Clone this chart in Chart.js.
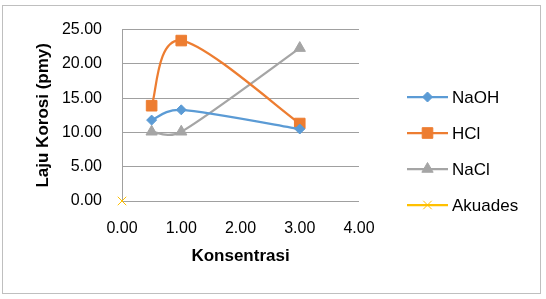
<!DOCTYPE html>
<html>
<head>
<meta charset="utf-8">
<script src="https://cdn.jsdelivr.net/npm/chart.js@4/dist/chart.umd.min.js"></script>
<style>
html,body{margin:0;padding:0;background:#fff;}
#wrap{position:absolute;left:0;top:0;width:546px;height:299px;}
</style>
</head>
<body>
<div id="wrap"><canvas id="c" width="546" height="299"></canvas></div>
<script>
const concentrations = [0.5, 1, 3];
const naoh = [11.8, 13.3, 10.5];
const hcl = [13.9, 23.4, 11.3];
const nacl = [10.1, 10.1, 22.3];
const akuadesX = [0];
const akuades = [0];
const seriesNames = ["NaOH", "HCl", "NaCl", "Akuades"];
const xTitle = "Konsentrasi";
const yTitle = "Laju Korosi (pmy)";

const FONT = "'Liberation Sans', Arial, sans-serif";
const colors = ["#5B9BD5", "#ED7D31", "#A5A5A5", "#FFC000"];
const pts = (xs, ys) => xs.map((x, i) => ({x: x, y: ys[i]}));

// Excel-like smoothing: control points at 1/6 of neighbour chord, limited by adjacent segment length
const excelSmooth = {
  id: 'excelSmooth',
  beforeDatasetDraw(chart, args) {
    const line = args.meta.dataset;
    if (!line || !line.points || line.points.length < 2) return;
    line.updateControlPoints(chart.chartArea, 'x');
    const p = line.points;
    const n = p.length;
    const dist = (a, b) => Math.hypot(b.x - a.x, b.y - a.y);
    for (let i = 0; i < n; i++) {
      const prev = p[Math.max(0, i - 1)];
      const next = p[Math.min(n - 1, i + 1)];
      const vx = (next.x - prev.x) / 6;
      const vy = (next.y - prev.y) / 6;
      const vl = Math.hypot(vx, vy) || 1;
      const back = Math.min(1, (0.5 * dist(prev, p[i])) / vl) || (i === 0 ? 1 : 0);
      const fwd = Math.min(1, (0.5 * dist(p[i], next)) / vl) || (i === n - 1 ? 1 : 0);
      const bk = i === 0 ? 1 : back;
      const fw = i === n - 1 ? 1 : fwd;
      p[i].cp1x = p[i].x - vx * bk; p[i].cp1y = p[i].y - vy * bk;
      p[i].cp2x = p[i].x + vx * fw; p[i].cp2y = p[i].y + vy * fw;
    }
  }
};

const frame = {
  id: 'frame',
  beforeDraw(chart) {
    const ctx = chart.ctx;
    ctx.save();
    ctx.fillStyle = '#fff';
    ctx.fillRect(0, 0, chart.width, chart.height);
    ctx.strokeStyle = '#BFBFBF';
    ctx.lineWidth = 1;
    ctx.strokeRect(2.5, 5.5, 538, 288);
    ctx.restore();
  },
  afterDraw(chart) {
    const ctx = chart.ctx;
    const ys = [97, 133, 169, 205];
    chart.data.datasets.forEach((ds, i) => {
      const y = ys[i];
      ctx.save();
      ctx.strokeStyle = ds.borderColor;
      ctx.lineWidth = 2.25;
      ctx.beginPath(); ctx.moveTo(407, y); ctx.lineTo(448, y); ctx.stroke();
      ctx.fillStyle = ds.borderColor; ctx.strokeStyle = ds.borderColor; ctx.lineWidth = 1;
      Chart.helpers.drawPoint(ctx, {pointStyle: ds.pointStyle, radius: ds.pointRadius, rotation: 0, borderWidth: 1}, 427.5, y);
      ctx.fillStyle = '#000';
      ctx.font = "17px " + FONT;
      ctx.textBaseline = 'middle';
      ctx.textAlign = 'left';
      ctx.fillText(ds.label, 452, y + 1);
      ctx.restore();
    });
  }
};

const mk = (label, xs, ys, i, style, r) => ({
  label: label,
  data: pts(xs, ys),
  borderColor: colors[i],
  backgroundColor: colors[i],
  pointBackgroundColor: colors[i],
  pointBorderColor: colors[i],
  pointBorderWidth: 1,
  showLine: true,
  borderWidth: 2.25,
  tension: 0.4,
  clip: false,
  pointStyle: style,
  pointRadius: r,
  pointHoverRadius: r
});

new Chart(document.getElementById('c'), {
  type: 'scatter',
  data: {
    datasets: [
      mk(seriesNames[0], concentrations, naoh, 0, 'rectRot', 5),
      mk(seriesNames[1], concentrations, hcl, 1, 'rect', 7.5),
      mk(seriesNames[2], concentrations, nacl, 2, 'triangle', 6.5),
      mk(seriesNames[3], akuadesX, akuades, 3, 'crossRot', 6)
    ]
  },
  options: {
    responsive: false,
    animation: false,
    devicePixelRatio: 1,
    layout: {padding: {left: 0, right: 187, top: 29, bottom: 0}},
    plugins: {legend: {display: false}, tooltip: {enabled: false}},
    scales: {
      x: {
        type: 'linear', min: 0, max: 4,
        afterFit(s) { s.height = 98; },
        ticks: {stepSize: 1, callback: v => v.toFixed(2), color: '#000', font: {family: FONT, size: 16}, padding: 18, maxRotation: 0},
        grid: {display: false, drawTicks: false},
        border: {display: false},
        title: {display: true, text: xTitle, color: '#000', font: {family: FONT, size: 17, weight: 'bold'}, padding: {top: 32, bottom: 32}}
      },
      y: {
        type: 'linear', min: 0, max: 25,
        afterFit(s) { s.width = 122; },
        ticks: {stepSize: 5, callback: v => v.toFixed(2), color: '#000', font: {family: FONT, size: 16}, padding: 20},
        grid: {color: '#A0A0A0', lineWidth: 1, drawTicks: false},
        border: {display: true, color: '#A0A0A0'},
        title: {display: true, text: yTitle, color: '#000', font: {family: FONT, size: 17, weight: 'bold'}, padding: {top: 33, bottom: 33}}
      }
    }
  },
  plugins: [frame, excelSmooth]
});
</script>
</body>
</html>
